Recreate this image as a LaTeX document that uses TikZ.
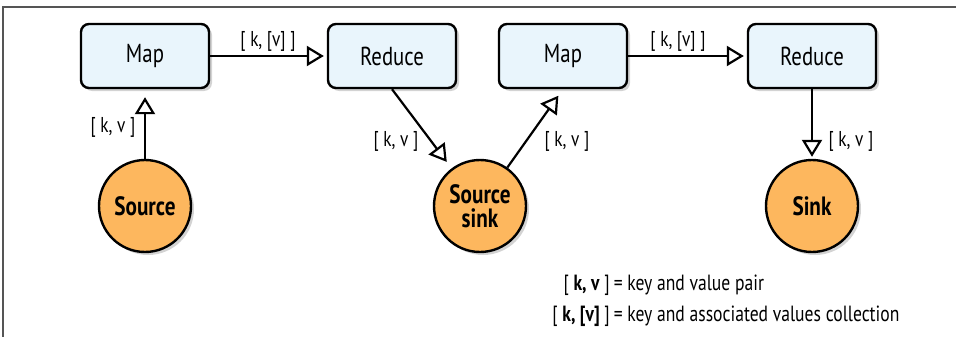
\documentclass[tikz,border=0pt]{standalone}
\usepackage{fontspec}
\setmainfont{PT Sans}[FakeStretch=0.8]
\usetikzlibrary{arrows.meta,shadows}
\definecolor{boxfill}{HTML}{E9F5FC}
\definecolor{circfill}{HTML}{FDB75E}
\definecolor{framegray}{HTML}{555555}
\begin{document}
\begin{tikzpicture}[x=1pt,y=-1pt,
  shad/.style={drop shadow={opacity=0.35,shadow xshift=3pt,shadow yshift=-3pt}},
  opbox/.style={draw=black,line width=2.4pt,fill=boxfill,rounded corners=8pt,
    minimum width=128pt,minimum height=64pt,inner sep=0pt,font=\fontsize{26}{28}\selectfont,shad},
  endpt/.style={circle,draw=black,line width=2.4pt,fill=circfill,minimum size=92pt,inner sep=0pt,
    font=\fontsize{26.5}{24}\selectfont\bfseries,align=center,shad},
  flow/.style={line width=2.2pt,-{Triangle[length=17pt,width=20pt,fill=white,line width=2.2pt]}},
  lbl/.style={font=\fontsize{21.5}{23}\selectfont,inner sep=0pt},
  leg/.style={font=\fontsize{22}{24}\selectfont,inner sep=0pt}]
\useasboundingbox (0,0) rectangle (956,337);
\draw[framegray,line width=1.5pt] (3,337) -- (3,7) -- (956,7);

\node[opbox] (map1) at (145,56) {Map};
\node[opbox] (red1) at (392,56) {Reduce};
\node[opbox] (map2) at (563,56) {Map};
\node[opbox] (red2) at (812,56) {Reduce};

\node[endpt] (src) at (145,206) {Source};
\node[endpt] (ss) at (480,206) {Source\\sink};
\node[endpt] (sink) at (812,206) {Sink};

\draw[flow,shorten >=8pt] (src) -- (map1);
\draw[flow,shorten >=3pt] (map1) -- (red1);
\draw[flow,shorten >=8pt] (red1.south) -- (ss);
\draw[flow,shorten >=8pt] (ss) -- (map2.south);
\draw[flow,shorten >=3pt] (map2) -- (red2);
\draw[flow,shorten >=2pt] (red2) -- (sink);

\node[lbl] (l1) at (268,41) {[ k, [v] ]};
\node[lbl] (l2) at (678,41) {[ k, [v] ]};
\node[lbl] (l3) at (113,127) {[ k, v ]};
\node[lbl] (l4) at (396,141) {[ k, v ]};
\node[lbl] (l5) at (567,141) {[ k, v ]};
\node[lbl] (l6) at (851,141) {[ k, v ]};

\node[leg,anchor=base east] (k1) at (610,290) {[ \textbf{k, v} ]};
\node[leg,anchor=base west] (d1) at (610,290) {\,= key and value pair};
\node[leg,anchor=base east] (k2) at (610,321) {[ \textbf{k, [v]} ]};
\node[leg,anchor=base west] (d2) at (610,321) {\,= key and associated values collection};
\end{tikzpicture}
\end{document}
